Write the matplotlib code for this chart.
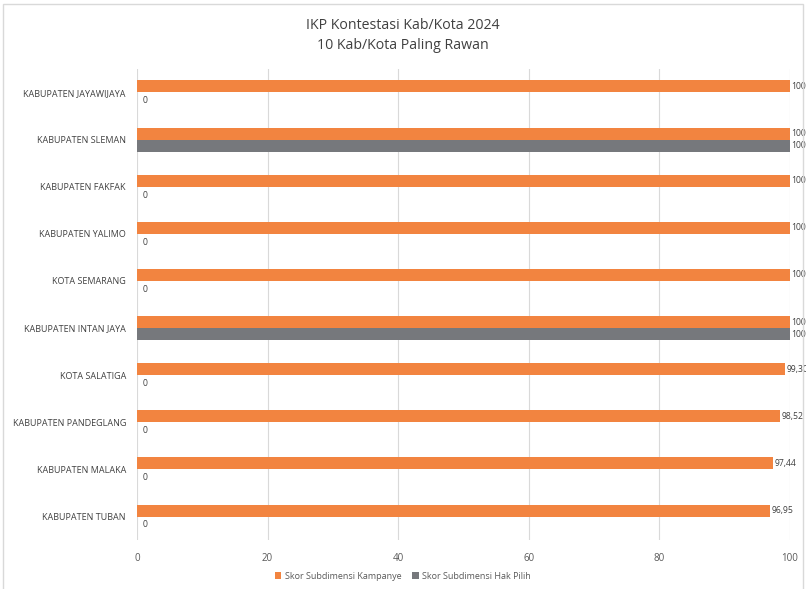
import numpy as np
import matplotlib.pyplot as plt
from matplotlib.patches import Rectangle

plt.rcParams['font.family'] = ['Open Sans', 'DejaVu Sans']

regions = ["KABUPATEN JAYAWIJAYA", "KABUPATEN SLEMAN", "KABUPATEN FAKFAK",
           "KABUPATEN YALIMO", "KOTA SEMARANG", "KABUPATEN INTAN JAYA",
           "KOTA SALATIGA", "KABUPATEN PANDEGLANG", "KABUPATEN MALAKA",
           "KABUPATEN TUBAN"]
kampanye = [100, 100, 100, 100, 100, 100, 99.30, 98.52, 97.44, 96.95]
hak_pilih = [0, 100, 0, 0, 0, 100, 0, 0, 0, 0]
xticks = [0, 20, 40, 60, 80, 100]

c_orange = "#F28440"
c_gray = "#76787C"
txt = "#404040"

fig = plt.figure(figsize=(8.06, 5.89), dpi=100)
ax = fig.add_axes([0.170, 0.083, 0.810, 0.800])

# outer chart frame
fig.patches.append(Rectangle((0.004, -0.01), 0.992, 1.003, transform=fig.transFigure,
                             fill=False, edgecolor="#D9D9D9", lw=1))

y = np.arange(len(regions))
h = 0.255
ax.barh(y - h / 2, kampanye, height=h, color=c_orange, label="Skor Subdimensi Kampanye", zorder=3)
ax.barh(y + h / 2, hak_pilih, height=h, color=c_gray, label="Skor Subdimensi Hak Pilih", zorder=3)

def fmt(v):
    if v == int(v):
        return str(int(v))
    return ("%.2f" % v).replace(".", ",")

for yi, v in zip(y, kampanye):
    ax.text(v + 0.25, yi - h / 2, fmt(v), va="center", ha="left", fontsize=6.2, color=txt, clip_on=False)
for yi, v in zip(y, hak_pilih):
    ax.text(v + 0.9 if v == 0 else v + 0.25, yi + h / 2 + (0.05 if v == 0 else 0), fmt(v),
            va="center", ha="left", fontsize=6.2, color=txt, clip_on=False)

ax.set_ylim(len(regions) - 0.5, -0.5)
ax.set_yticks(y)
ax.set_yticklabels(regions, fontsize=6.5, color=txt)
ax.set_xlim(0, 100)
ax.set_xticks(xticks)
ax.set_xticklabels([str(t) for t in xticks], fontsize=7, color="#595959")
ax.tick_params(length=0, pad=9)
ax.tick_params(axis="y", pad=8)
ax.grid(axis="x", color="#D9D9D9", lw=0.8, zorder=0)
for s in ax.spines.values():
    s.set_visible(False)

fig.text(0.5, 0.957, "IKP Kontestasi Kab/Kota 2024", ha="center", va="center", fontsize=10.2, color="#404040")
fig.text(0.5, 0.922, "10 Kab/Kota Paling Rawan", ha="center", va="center", fontsize=10.2, color="#404040")

fig.legend(loc="center", bbox_to_anchor=(0.5, 0.022), ncol=2, frameon=False, fontsize=6.5,
           handlelength=0.7, handleheight=0.7, handletextpad=0.4, columnspacing=1.2,
           labelcolor="#595959")

fig.savefig("out.png", dpi=100)
